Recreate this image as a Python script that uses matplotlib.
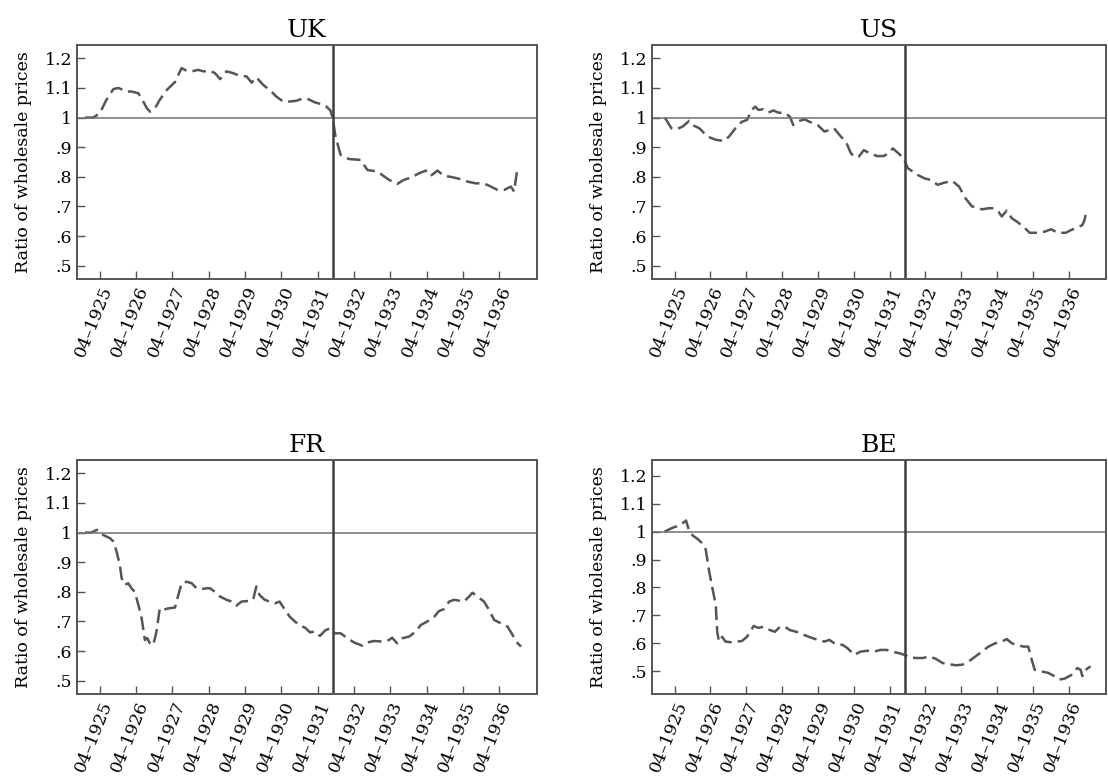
import matplotlib
matplotlib.use("Agg")
import matplotlib.pyplot as plt

plt.rcParams["font.family"] = ["DejaVu Serif"]

# dates as fractional years (year + (month-1)/12), values = ratio of wholesale prices
uk_t = [1924.84, 1925.07, 1925.25, 1925.43, 1925.62, 1925.76, 1925.99, 1926.12, 1926.31, 1926.40,
        1926.54, 1926.63, 1926.77, 1926.90, 1927.09, 1927.32, 1927.41, 1927.50, 1927.64, 1927.78,
        1927.96, 1928.10, 1928.28, 1928.42, 1928.56, 1928.74, 1928.92, 1929.10, 1929.29, 1929.43,
        1929.56, 1929.75, 1929.93, 1930.11, 1930.30, 1930.48, 1930.67, 1930.85, 1930.99, 1931.18,
        1931.36, 1931.49, 1931.60, 1931.66, 1931.74, 1931.88, 1932.11, 1932.43, 1932.62, 1932.89,
        1933.21, 1933.44, 1933.63, 1933.81, 1934.04, 1934.23, 1934.36, 1934.55, 1934.73, 1934.91,
        1935.19, 1935.37, 1935.60, 1935.83, 1936.02, 1936.20, 1936.39, 1936.57, 1936.66, 1936.73,
        1936.84]
uk_v = [1.000, 1.000, 1.015, 1.060, 1.096, 1.100, 1.088, 1.088, 1.082, 1.065,
        1.032, 1.020, 1.032, 1.060, 1.093, 1.120, 1.144, 1.167, 1.158, 1.156,
        1.161, 1.156, 1.158, 1.150, 1.130, 1.156, 1.150, 1.141, 1.139, 1.118,
        1.136, 1.110, 1.093, 1.071, 1.054, 1.054, 1.057, 1.065, 1.062, 1.051,
        1.045, 1.037, 1.024, 1.000, 0.936, 0.874, 0.860, 0.857, 0.823, 0.818,
        0.790, 0.776, 0.790, 0.797, 0.812, 0.821, 0.803, 0.821, 0.803, 0.800,
        0.792, 0.784, 0.778, 0.778, 0.767, 0.756, 0.756, 0.767, 0.750, 0.812,
        0.814]

us_t = [1924.97, 1925.02, 1925.16, 1925.30, 1925.48, 1925.66, 1925.80, 1925.94, 1926.17, 1926.40,
        1926.63, 1926.77, 1926.95, 1927.13, 1927.27, 1927.41, 1927.50, 1927.59, 1927.73, 1927.87,
        1928.01, 1928.14, 1928.33, 1928.47, 1928.56, 1928.74, 1928.88, 1929.01, 1929.24, 1929.43,
        1929.57, 1929.70, 1929.89, 1930.03, 1930.16, 1930.25, 1930.39, 1930.53, 1930.71, 1930.90,
        1931.08, 1931.22, 1931.34, 1931.50, 1931.64, 1931.76, 1932.04, 1932.22, 1932.41, 1932.59,
        1932.77, 1933.00, 1933.19, 1933.37, 1933.55, 1933.69, 1933.83, 1934.01, 1934.15, 1934.29,
        1934.38, 1934.52, 1934.66, 1934.80, 1934.98, 1935.16, 1935.39, 1935.58, 1935.76, 1935.94,
        1936.17, 1936.31, 1936.49, 1936.63, 1936.69, 1936.75]
us_v = [1.000, 0.992, 0.964, 0.960, 0.970, 0.989, 0.972, 0.964, 0.936, 0.925,
        0.921, 0.936, 0.964, 0.986, 0.992, 1.026, 1.037, 1.026, 1.028, 1.017,
        1.024, 1.017, 1.015, 1.003, 0.975, 0.989, 0.994, 0.986, 0.975, 0.953,
        0.958, 0.964, 0.936, 0.919, 0.882, 0.868, 0.868, 0.890, 0.879, 0.870,
        0.870, 0.879, 0.896, 0.879, 0.863, 0.829, 0.806, 0.795, 0.789, 0.773,
        0.780, 0.786, 0.767, 0.727, 0.700, 0.697, 0.690, 0.694, 0.694, 0.682,
        0.666, 0.686, 0.660, 0.649, 0.632, 0.611, 0.611, 0.615, 0.623, 0.611,
        0.611, 0.620, 0.629, 0.637, 0.654, 0.688]

fr_t = [1924.84, 1925.02, 1925.16, 1925.25, 1925.34, 1925.53, 1925.62, 1925.71, 1925.80, 1925.85,
        1925.94, 1926.03, 1926.12, 1926.21, 1926.31, 1926.40, 1926.49, 1926.55, 1926.63, 1926.72,
        1926.81, 1926.90, 1926.99, 1927.13, 1927.32, 1927.41, 1927.50, 1927.64, 1927.78, 1927.91,
        1928.05, 1928.19, 1928.28, 1928.42, 1928.56, 1928.74, 1928.88, 1929.01, 1929.15, 1929.34,
        1929.47, 1929.56, 1929.65, 1929.79, 1929.93, 1930.07, 1930.20, 1930.29, 1930.48, 1930.62,
        1930.76, 1930.90, 1931.04, 1931.17, 1931.31, 1931.45, 1931.59, 1931.72, 1931.88, 1932.07,
        1932.25, 1932.48, 1932.62, 1932.80, 1933.03, 1933.21, 1933.30, 1933.44, 1933.58, 1933.77,
        1933.95, 1934.09, 1934.27, 1934.46, 1934.59, 1934.73, 1934.87, 1935.01, 1935.15, 1935.28,
        1935.42, 1935.51, 1935.65, 1935.83, 1935.97, 1936.11, 1936.29, 1936.48, 1936.62, 1936.71,
        1936.85]
fr_v = [1.000, 1.000, 1.009, 1.006, 0.992, 0.981, 0.970, 0.936, 0.891, 0.846,
        0.823, 0.829, 0.812, 0.800, 0.756, 0.711, 0.637, 0.644, 0.626, 0.620,
        0.666, 0.744, 0.739, 0.744, 0.747, 0.789, 0.829, 0.834, 0.829, 0.812,
        0.809, 0.812, 0.812, 0.800, 0.784, 0.773, 0.767, 0.753, 0.767, 0.769,
        0.773, 0.818, 0.789, 0.773, 0.767, 0.761, 0.767, 0.750, 0.716, 0.700,
        0.686, 0.679, 0.663, 0.666, 0.651, 0.669, 0.677, 0.660, 0.660, 0.643,
        0.629, 0.618, 0.629, 0.634, 0.632, 0.637, 0.645, 0.626, 0.643, 0.649,
        0.666, 0.688, 0.700, 0.716, 0.735, 0.742, 0.767, 0.773, 0.770, 0.767,
        0.784, 0.797, 0.784, 0.767, 0.739, 0.705, 0.694, 0.682, 0.654, 0.632,
        0.615]

be_t = [1924.97, 1925.11, 1925.25, 1925.39, 1925.48, 1925.57, 1925.66, 1925.76, 1925.89, 1926.03,
        1926.12, 1926.22, 1926.31, 1926.40, 1926.44, 1926.49, 1926.58, 1926.67, 1926.86, 1926.99,
        1927.13, 1927.27, 1927.46, 1927.59, 1927.73, 1927.92, 1928.05, 1928.19, 1928.33, 1928.47,
        1928.65, 1928.88, 1929.06, 1929.25, 1929.43, 1929.57, 1929.75, 1929.94, 1930.08, 1930.26,
        1930.44, 1930.63, 1930.81, 1931.00, 1931.17, 1931.30, 1931.53, 1931.67, 1931.81, 1931.99,
        1932.18, 1932.36, 1932.54, 1932.73, 1932.91, 1933.10, 1933.28, 1933.46, 1933.65, 1933.83,
        1934.01, 1934.20, 1934.38, 1934.52, 1934.66, 1934.80, 1934.98, 1935.12, 1935.21, 1935.30,
        1935.49, 1935.67, 1935.85, 1935.99, 1936.13, 1936.31, 1936.49, 1936.58, 1936.63, 1936.69,
        1936.86]
be_v = [1.000, 1.009, 1.017, 1.021, 1.031, 1.040, 1.001, 0.986, 0.974, 0.958,
        0.936, 0.854, 0.795, 0.736, 0.641, 0.606, 0.623, 0.606, 0.603, 0.606,
        0.608, 0.623, 0.662, 0.655, 0.659, 0.647, 0.641, 0.659, 0.659, 0.647,
        0.641, 0.629, 0.620, 0.612, 0.606, 0.612, 0.596, 0.594, 0.582, 0.558,
        0.570, 0.573, 0.570, 0.576, 0.576, 0.570, 0.564, 0.558, 0.549, 0.547,
        0.547, 0.553, 0.544, 0.529, 0.525, 0.521, 0.523, 0.535, 0.553, 0.570,
        0.588, 0.600, 0.606, 0.615, 0.600, 0.594, 0.588, 0.588, 0.544, 0.505,
        0.499, 0.494, 0.482, 0.470, 0.473, 0.485, 0.511, 0.505, 0.482, 0.502,
        0.517]

panels = [("UK", uk_t, uk_v), ("US", us_t, us_v), ("FR", fr_t, fr_v), ("BE", be_t, be_v)]
ylims = {"UK": (0.455, 1.245), "US": (0.455, 1.245), "FR": (0.455, 1.245), "BE": (0.418, 1.257)}

tick_years = [1925 + i + 3 / 12 for i in range(12)]
tick_labels = [f"04\u2013{1925 + i}" for i in range(12)]
y_ticks = [0.5, 0.6, 0.7, 0.8, 0.9, 1.0, 1.1, 1.2]
y_labels = [".5", ".6", ".7", ".8", ".9", "1", "1.1", "1.2"]
break_date = 1931 + 8 / 12  # Sep 1931

fig = plt.figure(figsize=(11.08, 7.82), dpi=100)
rects = [(77, 45, 460, 234), (652, 45, 454, 234), (77, 460, 460, 234), (652, 460, 454, 234)]
W, H = 1108, 782
spine_c = "#555555"

for (name, t, v), (l, top, w, h) in zip(panels, rects):
    ax = fig.add_axes([l / W, 1 - (top + h) / H, w / W, h / H])
    ax.plot(t, v, color="#555555", lw=1.8, dashes=(5.5, 2.4))
    ax.axhline(1.0, color="#707070", lw=1.1)
    ax.axvline(break_date, color="#3f3f3f", lw=1.8)
    ax.set_xlim(1924.62, 1937.29)
    ax.set_ylim(*ylims[name])
    ax.set_xticks(tick_years)
    ax.set_xticklabels(tick_labels, rotation=68, ha="right", rotation_mode="anchor", fontsize=12.5)
    ax.set_yticks(y_ticks)
    ax.set_yticklabels(y_labels, fontsize=12.5)
    ax.tick_params(direction="in", length=6, width=1.0, color=spine_c)
    for s in ax.spines.values():
        s.set_color(spine_c)
        s.set_linewidth(1.4)
    ax.set_ylabel("Ratio of wholesale prices", fontsize=12.5, labelpad=9)
    ax.set_title(name, fontsize=18, pad=6)

fig.savefig("out.png", dpi=100, facecolor="white")
